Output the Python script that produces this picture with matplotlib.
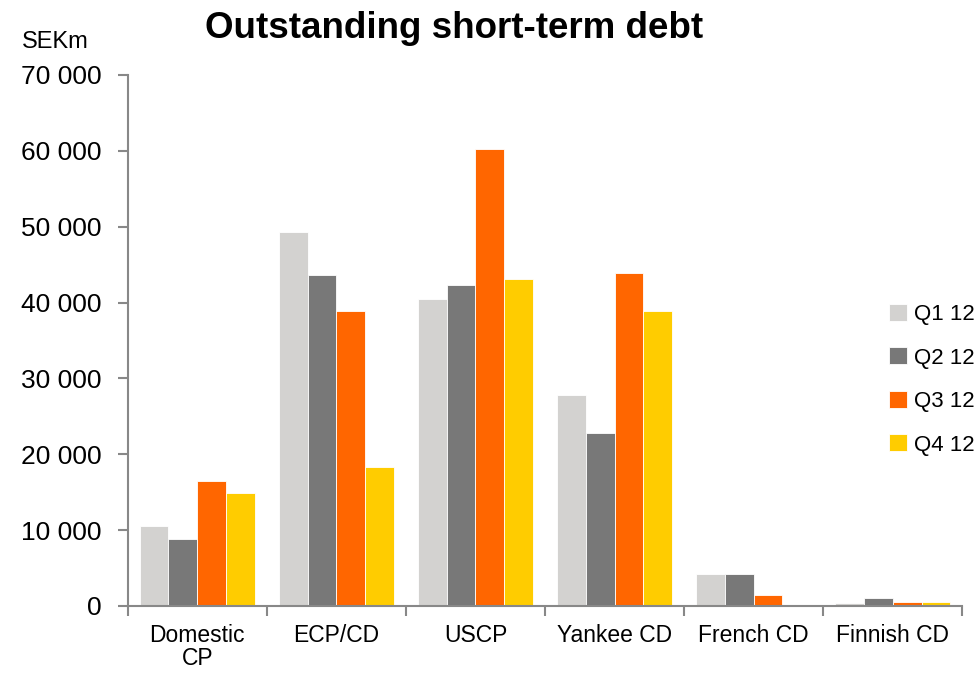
import numpy as np
import matplotlib.pyplot as plt

plt.rcParams['font.family'] = ['Liberation Sans', 'DejaVu Sans']

categories = ['Domestic\nCP', 'ECP/CD', 'USCP', 'Yankee CD', 'French CD', 'Finnish CD']
series = ['Q1 12', 'Q2 12', 'Q3 12', 'Q4 12']
q1 = [10500, 49300, 40500, 27800, 4200, 400]
q2 = [8800, 43600, 42300, 22800, 4200, 1000]
q3 = [16500, 38900, 60200, 43900, 1500, 500]
q4 = [14900, 18300, 43100, 38900, 0, 500]
colors = ['#d3d2d0', '#787878', '#ff6600', '#ffcc00']

fig = plt.figure(figsize=(9.75, 6.73), dpi=100)
ax = fig.add_axes([0.131, 0.0996, 0.856, 0.789])

x = np.arange(len(categories))
w = 0.207
for i, (vals, c, lab) in enumerate(zip([q1, q2, q3, q4], colors, series)):
    ax.bar(x + (i - 1.5) * w, vals, w, color=c, label=lab, edgecolor='white', linewidth=0.6)

ax.set_xlim(-0.5, len(categories) - 0.5)
ax.set_ylim(0, 70000)
ax.set_yticks(np.arange(0, 70001, 10000))
ax.set_yticklabels(['0' if v == 0 else f'{v // 1000} 000' for v in range(0, 70001, 10000)], fontsize=19)
ax.set_xticks(x)
ax.set_xticklabels(categories, fontsize=16.5, va='top', linespacing=1.0)
ax.set_xticks(np.arange(-0.5, len(categories), 1), minor=True)
ax.tick_params(axis='x', which='major', length=0, pad=13)
ax.tick_params(axis='x', which='minor', length=7, color='#888888', width=1.5)
ax.tick_params(axis='y', length=7, color='#888888', width=1.5, pad=12)

for s in ['top', 'right']:
    ax.spines[s].set_visible(False)
for s in ['left', 'bottom']:
    ax.spines[s].set_color('#888888')
    ax.spines[s].set_linewidth(1.5)

ax.legend(loc='center left', bbox_to_anchor=(0.902, 0.426), frameon=False, fontsize=16,
          handlelength=0.8, handleheight=0.8, handletextpad=0.3, labelspacing=1.0,
          borderaxespad=0)

fig.text(0.466, 0.957, 'Outstanding short-term debt', ha='center', va='center',
         fontsize=26.5, fontweight='bold')
fig.text(0.057, 0.937, 'SEKm', ha='center', va='center', fontsize=17)

fig.savefig('out.png', dpi=100)
